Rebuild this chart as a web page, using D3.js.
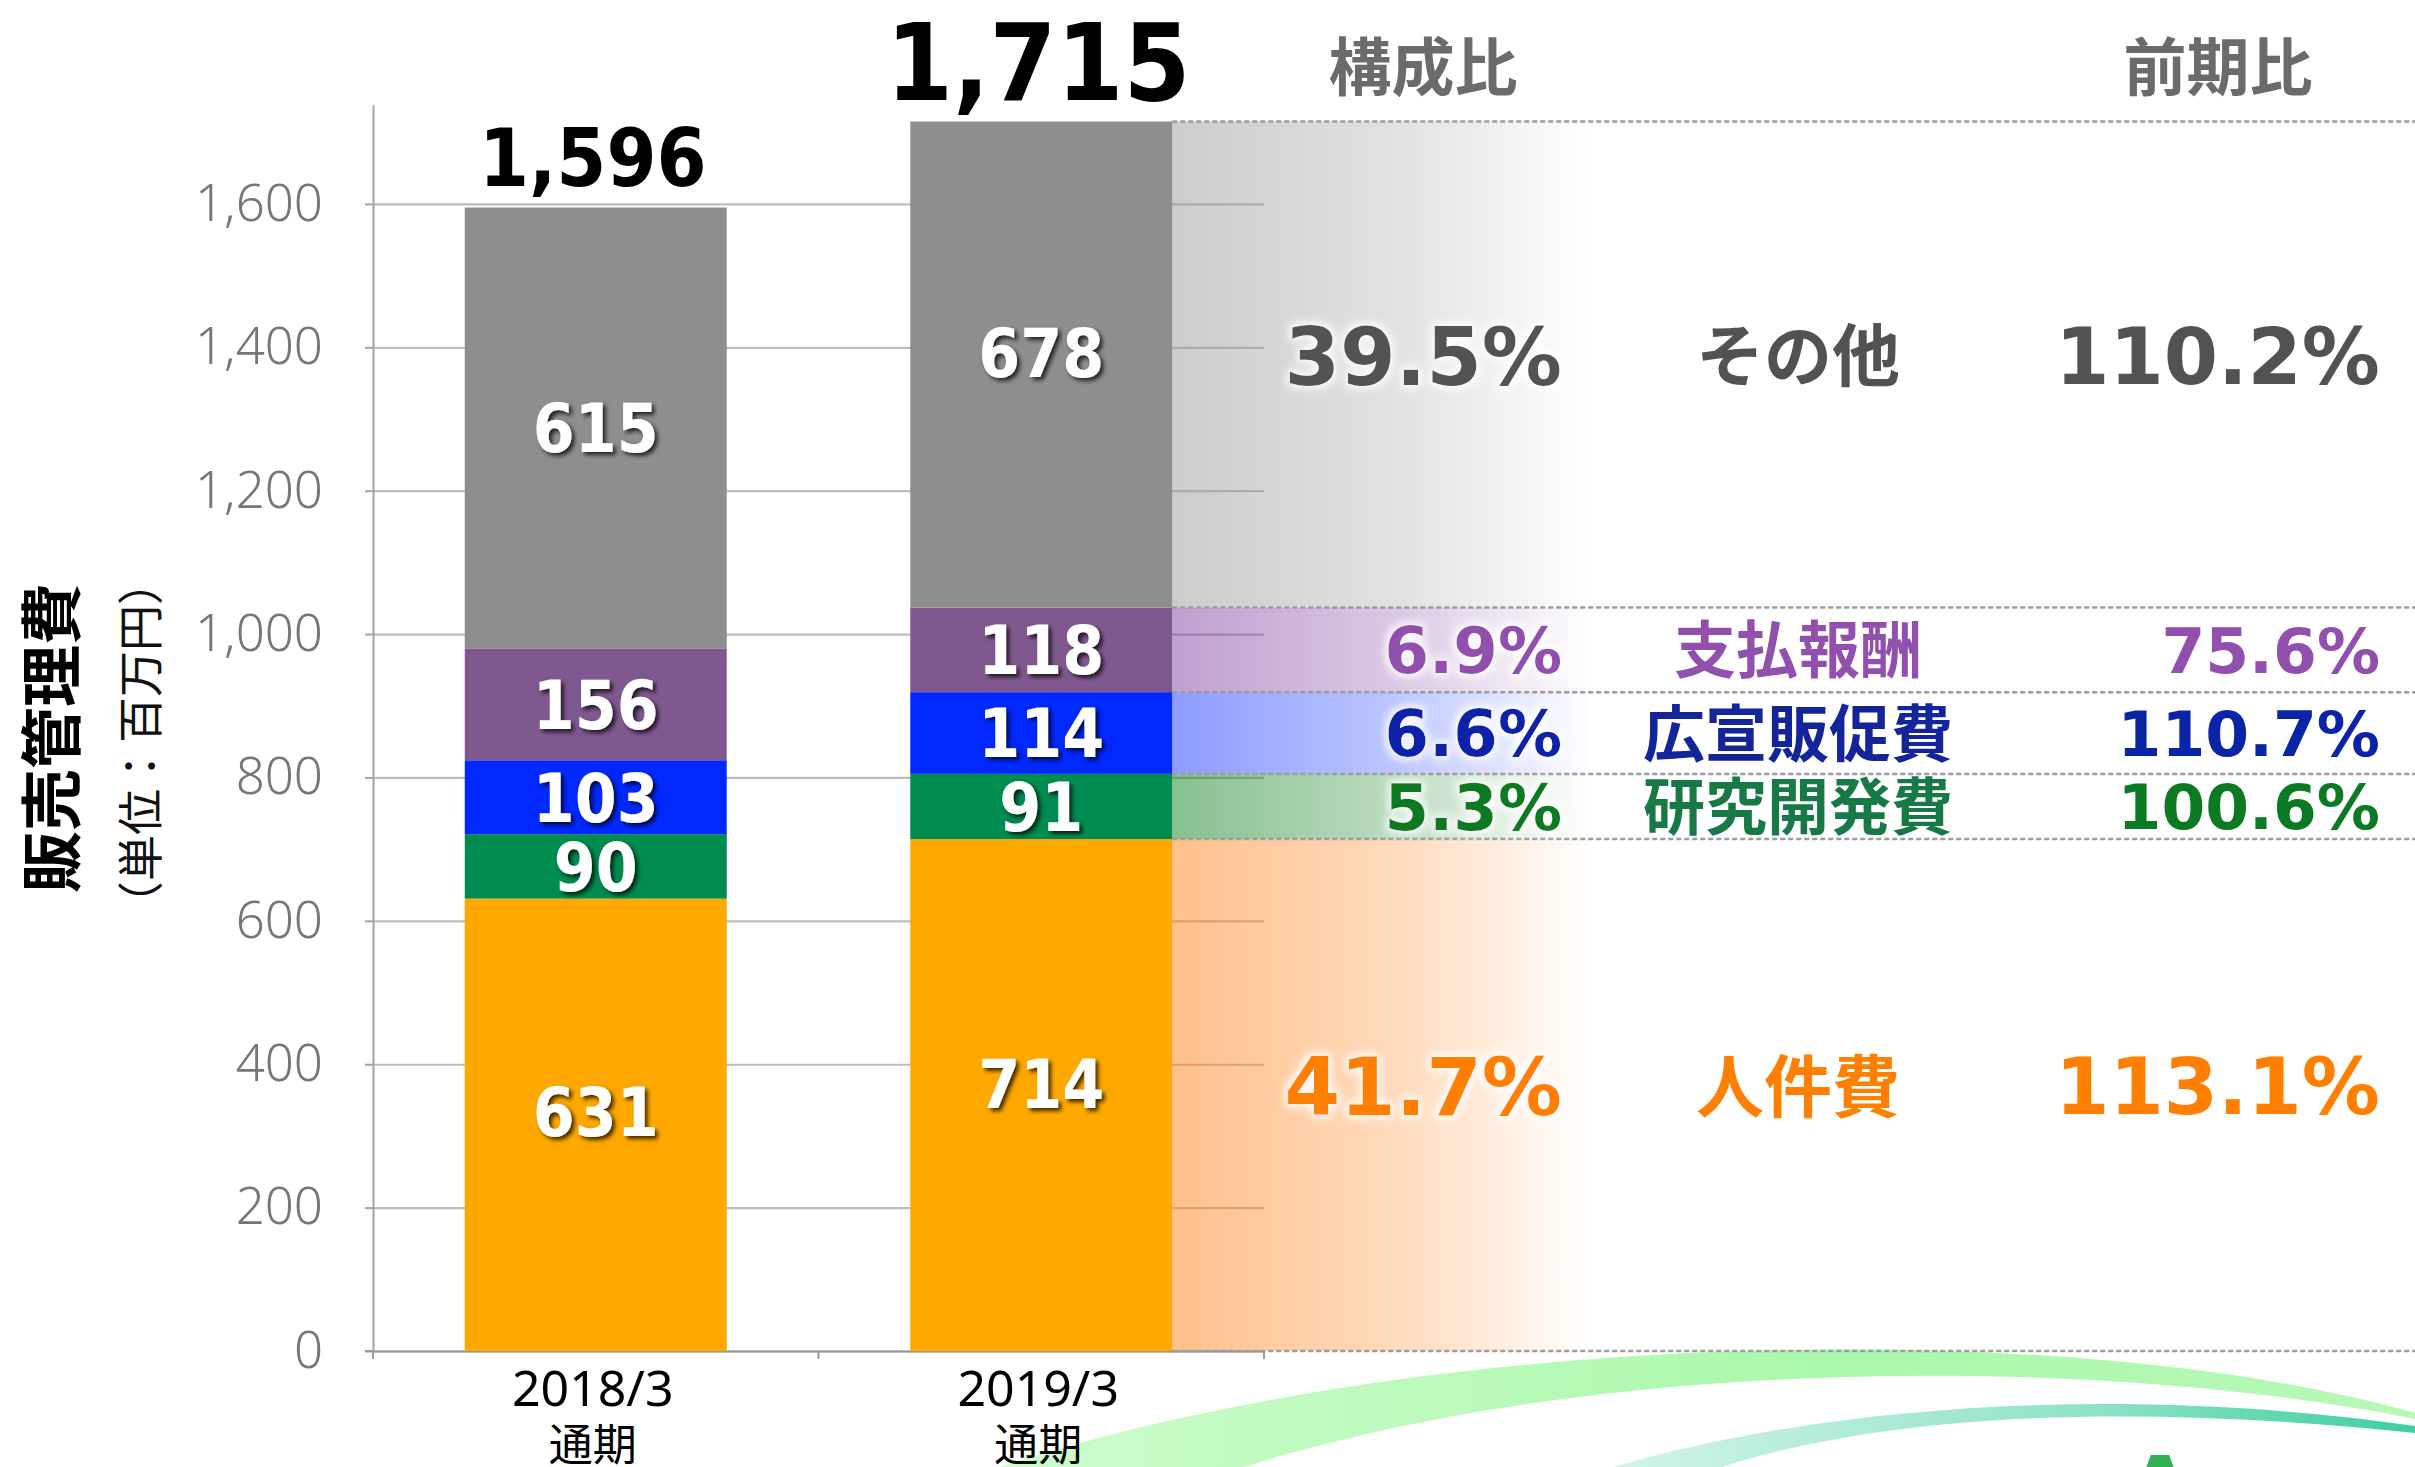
<!DOCTYPE html>
<html><head><meta charset="utf-8">
<script src="https://cdn.jsdelivr.net/npm/d3@7/dist/d3.min.js"></script>
<style>html,body{margin:0;padding:0;background:#fff;overflow:hidden}</style>
</head><body>
<svg id="chart" width="2415" height="1467"></svg>
<script>
// ---------------- data ----------------
const periods = ["2018/3", "2019/3"];
const periodSuffix = "通期";
const seriesKeys = ["人件費", "研究開発費", "広宣販促費", "支払報酬", "その他"];
const personnel = [631, 714];
const research = [90, 91];
const promotion = [103, 114];
const fees = [156, 118];
const other = [615, 678];
const totals = [1596, 1715];
const shareLabels = ["41.7%", "5.3%", "6.6%", "6.9%", "39.5%"];
const yoyLabels = ["113.1%", "100.6%", "110.7%", "75.6%", "110.2%"];
const yTicks = [0, 200, 400, 600, 800, 1000, 1200, 1400, 1600];
const yTitle = "販売管理費";
const yUnit = "（単位：百万円）";
const headers = ["構成比", "前期比"];

// ---------------- style ----------------
const barColors = ["#ffa800", "#008c50", "#0028ff", "#805890", "#8e8e8e"];
const bandColors = ["#ff8119", "#118121", "#1939ff", "#7f41a1", "#999999"];
const textColors = ["#ff7f00", "#0c7a22", "#0a24a8", "#9150ae", "#525252"];
const catColors = ["#ff7f00", "#177a46", "#14259a", "#9150ae", "#525252"];
// vertical nudges (px) for the in-bar labels, per series key and period index
const labelNudge = { "人件費": [-13, -11], "その他": [0, -12] };
const NUMC = "'DejaVu Sans Condensed','DejaVu Sans',sans-serif";
const NUMB = "'DejaVu Sans',sans-serif";
const CJK = "'Noto Sans CJK JP','Noto Sans CJK SC',sans-serif";

const W = 2415, H = 1467;
const svg = d3.select("#chart");
const defs = svg.append("defs");

// filters
const glow = defs.append("filter").attr("id", "glow")
  .attr("x", "-20%").attr("y", "-40%").attr("width", "140%").attr("height", "180%");
glow.append("feMorphology").attr("in", "SourceAlpha").attr("operator", "dilate").attr("radius", 3).attr("result", "d");
glow.append("feGaussianBlur").attr("in", "d").attr("stdDeviation", 4).attr("result", "b");
glow.append("feFlood").attr("flood-color", "#fff").attr("flood-opacity", 0.95);
glow.append("feComposite").attr("in2", "b").attr("operator", "in").attr("result", "g");
const gm = glow.append("feMerge");
gm.append("feMergeNode").attr("in", "g");
gm.append("feMergeNode").attr("in", "SourceGraphic");

const shadow = defs.append("filter").attr("id", "shadow")
  .attr("x", "-20%").attr("y", "-30%").attr("width", "150%").attr("height", "170%");
shadow.append("feDropShadow").attr("dx", 3).attr("dy", 3).attr("stdDeviation", 2.2)
  .attr("flood-color", "#000").attr("flood-opacity", 0.75);

// ---------------- decoration (background swooshes) ----------------
const g1 = defs.append("linearGradient").attr("id", "sw1").attr("x1", 0).attr("x2", 1).attr("y1", 0).attr("y2", 0);
g1.append("stop").attr("offset", 0).attr("stop-color", "#cdfccd");
g1.append("stop").attr("offset", 0.6).attr("stop-color", "#aaf8aa");
g1.append("stop").attr("offset", 1).attr("stop-color", "#b8f8b8");
const g2 = defs.append("linearGradient").attr("id", "sw2").attr("x1", 0).attr("x2", 1).attr("y1", 0).attr("y2", 0);
g2.append("stop").attr("offset", 0).attr("stop-color", "#d2f4ea");
g2.append("stop").attr("offset", 0.6).attr("stop-color", "#8ee2c8");
g2.append("stop").attr("offset", 1).attr("stop-color", "#3ecfa0");
const deco = svg.append("g");
deco.append("path").attr("fill", "url(#sw1)")
  .attr("d", "M1000,1467 C1400,1335 2050,1310 2415,1413 L2415,1419 C2100,1355 1600,1355 1244,1467 Z");
deco.append("path").attr("fill", "url(#sw2)")
  .attr("d", "M1614,1467 C1850,1398 2150,1388 2415,1426 L2415,1433 C2150,1405 1900,1410 1722,1467 Z");
deco.append("text").attr("x", 2160).attr("y", 1515).attr("text-anchor", "middle")
  .attr("font-family", NUMB).attr("font-weight", 700).attr("font-size", 82).attr("fill", "#33b155").text("A");

// ---------------- scales ----------------
const x = d3.scaleBand().domain(periods).range([373, 1264]).paddingInner(0).paddingOuter(0);
const y = d3.scaleLinear().domain([0, 1738]).range([1351, 105]);
const bw = x.bandwidth();
const barW = bw * 0.588;
const barX = p => x(p) + (bw - barW) / 2;

const table = periods.map((p, i) => ({
  period: p,
  "人件費": personnel[i], "研究開発費": research[i], "広宣販促費": promotion[i],
  "支払報酬": fees[i], "その他": other[i]
}));
const stacked = d3.stack().keys(seriesKeys)(table);

// ---------------- grid & axes ----------------
const grid = svg.append("g").attr("transform", "translate(373,0)")
  .call(d3.axisLeft(y).tickValues(yTicks).tickSize(-(1264 - 373)).tickFormat(""));
grid.select(".domain").remove();
grid.selectAll(".tick line").attr("stroke", "#bdbdbd").attr("stroke-width", 2.2);

const yAxis = svg.append("g").attr("transform", "translate(373,0)")
  .call(d3.axisLeft(y).tickValues(yTicks).tickSizeInner(8).tickSizeOuter(0).tickPadding(42)
    .tickFormat(d3.format(",")));
yAxis.select(".domain").attr("stroke", "#a3a3a3").attr("stroke-width", 2);
yAxis.selectAll(".tick line").attr("stroke", "#a3a3a3").attr("stroke-width", 2);
yAxis.selectAll(".tick text").attr("font-family", "'Noto Sans',sans-serif").attr("font-weight", 300)
  .attr("font-size", 51).attr("fill", "#767676");

// ---------------- right-side gradient bands (2019 bar) ----------------
const lastIdx = periods.length - 1;
const bandX0 = barX(periods[lastIdx]) + barW;
const bandX1 = 1592;
stacked.forEach((s, i) => {
  const gr = defs.append("linearGradient").attr("id", "band" + i)
    .attr("gradientUnits", "userSpaceOnUse").attr("x1", bandX0).attr("x2", bandX1).attr("y1", 0).attr("y2", 0);
  gr.append("stop").attr("offset", 0).attr("stop-color", bandColors[i]).attr("stop-opacity", 0.5);
  gr.append("stop").attr("offset", 0.55).attr("stop-color", bandColors[i]).attr("stop-opacity", 0.28);
  gr.append("stop").attr("offset", 1).attr("stop-color", bandColors[i]).attr("stop-opacity", 0);
});
svg.append("g").selectAll("rect").data(stacked).join("rect")
  .attr("x", bandX0).attr("width", bandX1 - bandX0)
  .attr("y", s => y(s[lastIdx][1])).attr("height", s => y(s[lastIdx][0]) - y(s[lastIdx][1]))
  .attr("fill", (s, i) => `url(#band${i})`);

// x axis
const xAxis = svg.append("g").attr("transform", `translate(0,${y(0)})`)
  .call(d3.axisBottom(x).tickSize(0).tickFormat(""));
xAxis.select(".domain").attr("stroke", "#9a9a9a").attr("stroke-width", 2.2);
const bounds = periods.map(p => x(p)).concat([x(periods[lastIdx]) + bw]);
xAxis.selectAll("line.bnd").data(bounds).join("line").attr("class", "bnd")
  .attr("x1", d => d).attr("x2", d => d).attr("y1", 0).attr("y2", 8)
  .attr("stroke", "#9a9a9a").attr("stroke-width", 2);
svg.append("line").attr("x1", 365).attr("x2", 373).attr("y1", y(0)).attr("y2", y(0))
  .attr("stroke", "#9a9a9a").attr("stroke-width", 2);

// ---------------- bars ----------------
const layers = svg.append("g").selectAll("g").data(stacked).join("g")
  .attr("fill", (s, i) => barColors[i]);
layers.selectAll("rect").data(s => s.map(d => ({ d, key: s.key }))).join("rect")
  .attr("x", o => barX(o.d.data.period)).attr("width", barW)
  .attr("y", o => y(o.d[1])).attr("height", o => y(o.d[0]) - y(o.d[1]));

// dotted guide lines at 2019 segment boundaries
const bounds19 = [0].concat(stacked.map(s => s[lastIdx][1]));
svg.append("g").selectAll("line").data(bounds19).join("line")
  .attr("x1", bandX0).attr("x2", W).attr("y1", d => y(d)).attr("y2", d => y(d))
  .attr("stroke", "#9c9c9c").attr("stroke-width", 2.5).attr("stroke-dasharray", "5,3");

// bar value labels
const LFS = 67;
const labelG = svg.append("g").attr("filter", "url(#shadow)");
stacked.forEach((s, i) => {
  s.forEach((d, j) => {
    const nudge = labelNudge[s.key] ? labelNudge[s.key][j] : 0;
    const cy = (y(d[0]) + y(d[1])) / 2 + nudge;
    labelG.append("text")
      .attr("x", barX(d.data.period) + barW / 2).attr("y", cy + 0.3645 * LFS)
      .attr("text-anchor", "middle").attr("font-family", NUMC).attr("font-stretch", "condensed")
      .attr("font-weight", 700).attr("font-size", LFS).attr("fill", "#fff")
      .text(d.data[s.key]);
  });
});

// totals
periods.forEach((p, i) => {
  const fs = i === lastIdx ? 107 : 80;
  svg.append("text").attr("x", barX(p) + barW / 2 - 3).attr("y", y(totals[i]) - 21)
    .attr("text-anchor", "middle").attr("font-family", NUMC).attr("font-stretch", "condensed")
    .attr("font-weight", 700).attr("font-size", fs).attr("fill", "#000")
    .text(d3.format(",")(totals[i]));
});

// x labels
periods.forEach(p => {
  const cx = x(p) + bw / 2 - 3;
  svg.append("text").attr("x", cx).attr("y", 1406).attr("text-anchor", "middle")
    .attr("font-family", "'Noto Sans',sans-serif").attr("font-size", 50).attr("fill", "#000").text(p);
  svg.append("text").attr("x", cx).attr("y", 1461).attr("text-anchor", "middle")
    .attr("font-family", CJK).attr("font-size", 44).attr("fill", "#000").text(periodSuffix);
});

// y titles
svg.append("text").attr("transform", "translate(51,738) rotate(-90)").attr("y", 0.38 * 62)
  .attr("text-anchor", "middle").attr("font-family", CJK).attr("font-weight", 700)
  .attr("font-size", 62).attr("fill", "#000").text(yTitle);
svg.append("text").attr("transform", "translate(140,743) rotate(-90)").attr("y", 0.38 * 46)
  .attr("text-anchor", "middle").attr("font-family", CJK).attr("font-weight", 400)
  .attr("font-size", 46).attr("fill", "#111").text(yUnit);

// headers
[1423, 2218].forEach((hx, i) => {
  svg.append("text").attr("x", hx).attr("y", 66 + 0.38 * 63).attr("text-anchor", "middle")
    .attr("font-family", CJK).attr("font-weight", 700).attr("font-size", 63).attr("fill", "#6b6b6b")
    .text(headers[i]);
});

// right-side rows
stacked.forEach((s, i) => {
  const d = s[lastIdx];
  const h = y(d[0]) - y(d[1]);
  const big = h > 200;
  const cy = (y(d[0]) + y(d[1])) / 2 + (big ? -9 : 0);
  const fsP = big ? 80 : 64, fsC = big ? 68 : 62, fsY = big ? 78 : 63;
  svg.append("text").attr("x", 1562).attr("y", cy + 0.3645 * fsP).attr("text-anchor", "end")
    .attr("font-family", NUMB).attr("font-weight", 700).attr("font-size", fsP)
    .attr("fill", textColors[i]).attr("filter", "url(#glow)").text(shareLabels[i]);
  svg.append("text").attr("x", 1798).attr("y", cy + 0.38 * fsC).attr("text-anchor", "middle")
    .attr("font-family", CJK).attr("font-weight", 700).attr("font-size", fsC)
    .attr("fill", catColors[i]).text(s.key);
  svg.append("text").attr("x", 2380).attr("y", cy + 0.3645 * fsY).attr("text-anchor", "end")
    .attr("font-family", NUMB).attr("font-weight", 700).attr("font-size", fsY)
    .attr("fill", textColors[i]).text(yoyLabels[i]);
});
</script>
</body></html>
